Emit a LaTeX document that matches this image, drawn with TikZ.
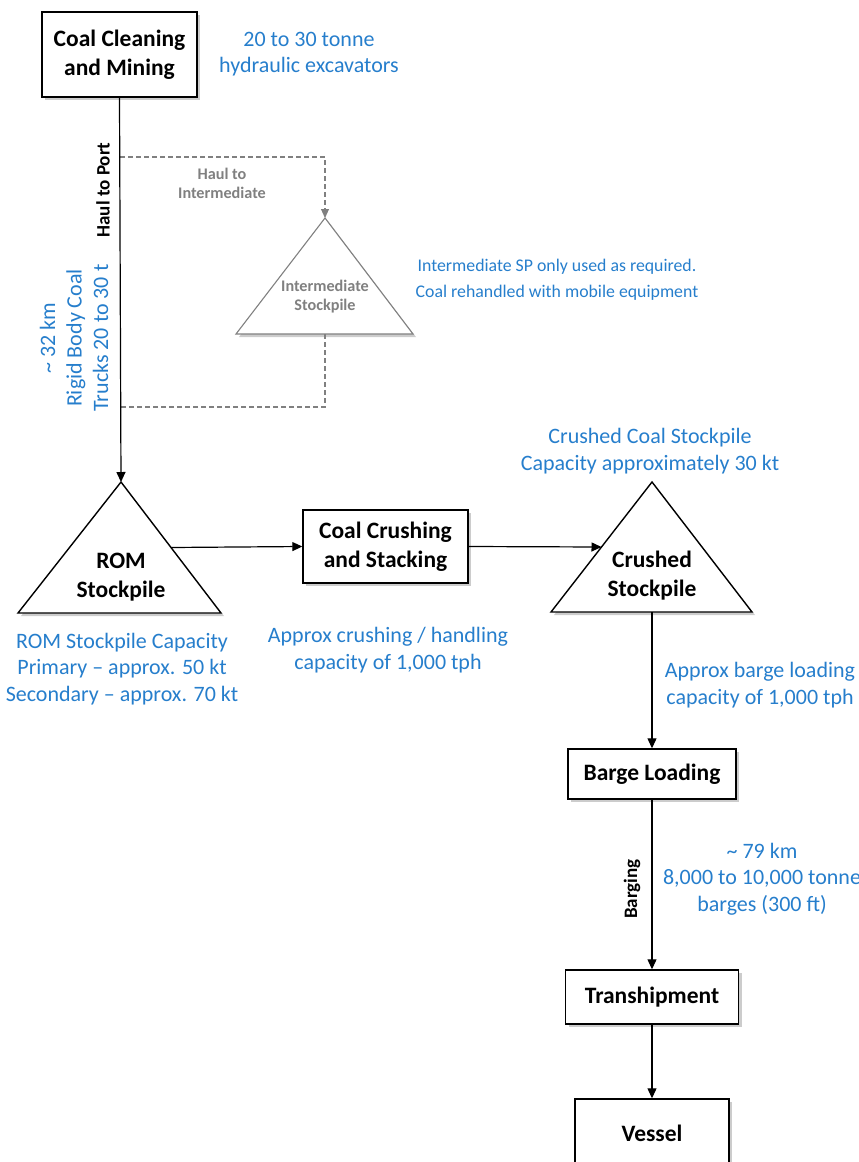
\documentclass[tikz,border=0pt]{standalone}
\usepackage{fontspec}
\setmainfont{Carlito}
\usetikzlibrary{shadows,calc,arrows.meta}
\definecolor{noteblue}{RGB}{38,126,204}
\definecolor{dimgrey}{RGB}{128,128,128}
\tikzset{
  shade/.style={drop shadow={opacity=0.4,shadow xshift=3pt,shadow yshift=-3pt}},
  box/.style={draw,line width=1.4pt,fill=white,shade,inner sep=0pt,align=center,
    font=\bfseries\fontsize{23.5}{29}\selectfont},
  pile/.style={draw,line width=1.4pt,fill=white,shade,line join=miter},
  pilelabel/.style={inner sep=0pt,align=center,font=\bfseries\fontsize{23.5}{29}\selectfont},
  note/.style={inner sep=0pt,align=center,text=noteblue,font=\fontsize{22}{26.5}\selectfont},
  smallnote/.style={inner sep=0pt,align=center,text=noteblue,font=\fontsize{17.8}{26}\selectfont},
  sidelabel/.style={inner sep=0pt,align=center,rotate=90,font=\bfseries\fontsize{19}{22}\selectfont},
  greylabel/.style={inner sep=0pt,align=center,text=dimgrey,font=\bfseries\fontsize{16.2}{19}\selectfont},
  arr/.style={->,>={Stealth[length=10pt,width=9pt,inset=0pt]},line width=1.2pt},
  greyarr/.style={dimgrey,line width=1.1pt,dash pattern=on 5pt off 3pt}
}
\begin{document}
\begin{tikzpicture}[x=1pt,y=-1pt]
    \useasboundingbox (0,0) rectangle (859,1162);
    \clip (0,0) rectangle (859,1162);
    \node [box,minimum width=155pt,minimum height=85pt] (mine) at (119.5,54.5) {Coal Cleaning\\and Mining};
    \node [note] (digger) at (309,54) {20 to 30 tonne\\hydraulic excavators};
    \coordinate (romtop) at (121,482);
    \coordinate (romright) at (221,613);
    \coordinate (romleft) at (18,613);
    \filldraw [pile] (romtop) -- (romright) -- (romleft) -- cycle;
    \node [pilelabel] (romlbl) at (121,577) {ROM\\Stockpile};
    \coordinate (midtop) at (325,218);
    \coordinate (midright) at (413,334);
    \coordinate (midleft) at (236,334);
    \coordinate (midbase) at (325,334);
    \filldraw [pile,draw=dimgrey,line width=1.1pt] (midtop) -- (midright) -- (midleft) -- cycle;
    \node [greylabel] (midlbl) at (325,297) {Intermediate\\Stockpile};
    \coordinate (haulsplit) at (120,157);
    \coordinate (haulmerge) at (120,407);
    \draw [greyarr,->,>={Stealth[length=9pt,width=8pt,inset=0pt]}] (haulsplit) -| (midtop);
    \draw [greyarr] (midbase) |- (haulmerge);
    \node [greylabel] (haulmid) at (222,183) {Haul to\\Intermediate};
    \node [smallnote] (midnote) at (557,280) {Intermediate SP only used as required.\\Coal rehandled with mobile equipment};
    \draw [arr] (mine.south) -- (romtop);
    \node [sidelabel] (haulport) at (103,190) {Haul to Port};
    \node [note,rotate=90] (trucks) at (74,338) {\textasciitilde{} 32 km\\Rigid Body Coal\\Trucks 20 to 30 t};
    \node [note] (romcap) at (122,669) {ROM Stockpile Capacity\\Primary -- approx. 50 kt\\Secondary -- approx. 70 kt};
    \node [box,minimum width=165pt,minimum height=73pt] (crush) at (385.5,546.5) {Coal Crushing\\and Stacking};
    \node [note] (crushcap) at (388,650) {Approx crushing / handling\\capacity of 1,000 tph};
    \coordinate (cstop) at (652,482);
    \coordinate (csright) at (752,612);
    \coordinate (csleft) at (551,612);
    \coordinate (csbase) at (652,612);
    \filldraw [pile] (cstop) -- (csright) -- (csleft) -- cycle;
    \node [pilelabel] (cslbl) at (652,576) {Crushed\\Stockpile};
    \node [note] (cscap) at (650,451) {Crushed Coal Stockpile\\Capacity approximately 30 kt};
    \draw [arr] ($(romtop)!0.5!(romright)$) -- (crush.west);
    \draw [arr] (crush.east) -- ($(csleft)!0.5!(cstop)$);
    \node [box,minimum width=168pt,minimum height=50pt] (barge) at (652,774) {Barge Loading};
    \node [note] (bargecap) at (760,685) {Approx barge loading\\capacity of 1,000 tph};
    \draw [arr] (csbase) -- (barge.north);
    \node [box,minimum width=173pt,minimum height=54pt] (tranship) at (652,997) {Transhipment};
    \draw [arr] (barge.south) -- (tranship.north);
    \node [sidelabel] (barging) at (632,889) {Barging};
    \node [note] (bargenote) at (762,879) {\textasciitilde{} 79 km\\8,000 to 10,000 tonne\\barges (300 ft)};
    \node [box,minimum width=154pt,minimum height=68pt] (vessel) at (652,1133) {Vessel};
    \draw [arr] (tranship.south) -- (vessel.north);
\end{tikzpicture}
\end{document}
